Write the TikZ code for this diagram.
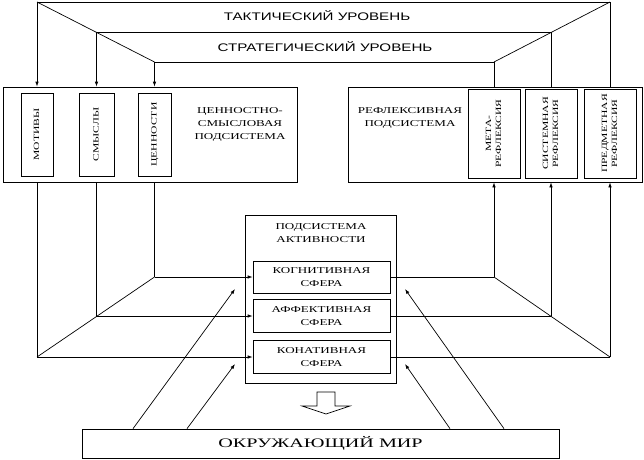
\documentclass[tikz,border=0pt]{standalone}
\usepackage{fontspec}
\usepackage{graphicx}
\setmainfont{Liberation Serif}
\newfontfamily\topfont[FakeStretch=1.38]{Liberation Sans}
\newfontfamily\boxfont[FakeStretch=1.45]{Liberation Serif}
\newfontfamily\plainserif{Liberation Serif}
\newfontfamily\worldfont[FakeStretch=1.55]{Liberation Serif}
\newcommand\vtext[1]{\scalebox{1.45}[1]{\begin{tabular}{@{}c@{}}#1\end{tabular}}}
\usetikzlibrary{arrows.meta,calc}
\begin{document}
\begin{tikzpicture}[x=1pt,y=-1pt,line width=0.7pt,
  box/.style={draw,rectangle,inner sep=0pt},
  txt/.style={inner sep=0pt,align=center,font=\boxfont\fontsize{9}{13}\selectfont},
  vlab/.style={inner sep=0pt,rotate=90,font=\plainserif\fontsize{8}{10}\selectfont},
  toplab/.style={inner sep=0pt,font=\topfont\fontsize{11}{13}\selectfont},
  arr/.style={-{Latex[length=5pt,width=3.5pt]}}]
\useasboundingbox (0,0) rectangle (644,459);
\fill[white] (0,0) rectangle (644,459);

% level labels
\node[toplab] (tak) at (317,16) {ТАКТИЧЕСКИЙ УРОВЕНЬ};
\node[toplab] (str) at (325,47) {СТРАТЕГИЧЕСКИЙ УРОВЕНЬ};

% value-sense subsystem
\node[box,minimum width=294pt,minimum height=95pt] (valsys) at (150,134.5) {};
\node[box,minimum width=32pt,minimum height=83pt] (motiv) at (37,134.5) {};
\node[box,minimum width=35pt,minimum height=83pt] (smysl) at (96.5,134.5) {};
\node[box,minimum width=33pt,minimum height=83pt] (cenn) at (154.5,134.5) {};
\node[vlab] (motivt) at (motiv.center) {\vtext{МОТИВЫ}};
\node[vlab] (smyslt) at (smysl.center) {\vtext{СМЫСЛЫ}};
\node[vlab] (cennt) at (cenn.center) {\vtext{ЦЕННОСТИ}};
\node[txt] (valtxt) at (240,124) {ЦЕННОСТНО-\\СМЫСЛОВАЯ\\ПОДСИСТЕМА};

% reflexive subsystem
\node[box,minimum width=294pt,minimum height=95pt] (refsys) at (495,134.5) {};
\node[box,minimum width=52pt,minimum height=89pt] (meta) at (494,133.5) {};
\node[box,minimum width=52pt,minimum height=89pt] (sist) at (551,133.5) {};
\node[box,minimum width=52pt,minimum height=89pt] (pred) at (610,133.5) {};
\node[vlab] (metat) at (meta.center) {\vtext{МЕТА-\\РЕФЛЕКСИЯ}};
\node[vlab] (sistt) at (sist.center) {\vtext{СИСТЕМНАЯ\\РЕФЛЕКСИЯ}};
\node[vlab] (predt) at (pred.center) {\vtext{ПРЕДМЕТНАЯ\\РЕФЛЕКСИЯ}};
\node[txt] (reftxt) at (410,118) {РЕФЛЕКСИВНАЯ\\ПОДСИСТЕМА};

% activity subsystem
\node[box,minimum width=151pt,minimum height=168pt] (act) at (320.5,299) {};
\node[txt] (acttxt) at (321,233.5) {ПОДСИСТЕМА\\АКТИВНОСТИ};
\node[box,txt,minimum width=137pt,minimum height=32pt] (cog) at (321.5,277) {КОГНИТИВНАЯ\\СФЕРА};
\node[box,txt,minimum width=137pt,minimum height=33pt] (aff) at (321.5,316) {АФФЕКТИВНАЯ\\СФЕРА};
\node[box,txt,minimum width=137pt,minimum height=33pt] (con) at (321.5,357) {КОНАТИВНАЯ\\СФЕРА};

% world
\node[box,minimum width=477pt,minimum height=29pt,font=\worldfont\fontsize{13}{15}\selectfont] (world) at (320.5,443.5) {ОКРУЖАЮЩИЙ МИР};

% top frame
\coordinate (t1) at (motiv |- 0,2);
\coordinate (t2) at (smysl |- 0,32);
\coordinate (t3) at (cenn |- 0,62);
\coordinate (r1) at (pred |- 0,2);
\coordinate (r2) at (sist |- 0,32);
\coordinate (r3) at (meta |- 0,62);
\draw (t1) -- (r1);
\draw (t2) -- (r2);
\draw (t3) -- (r3);
\draw (t1) -- (t3);
\draw (r1) -- (r3);
\draw[arr] (t1) -- (t1 |- valsys.north);
\draw[arr] (t2) -- (t2 |- valsys.north);
\draw[arr] (t3) -- (t3 |- valsys.north);
\draw (r1) -- (r1 |- refsys.north);
\draw (r2) -- (r2 |- refsys.north);
\draw (r3) -- (r3 |- refsys.north);

% bottom frame
\coordinate (b1) at (motiv |- con.west);
\coordinate (b2) at (smysl |- aff.west);
\coordinate (b3) at (cenn |- cog.west);
\coordinate (q1) at (pred |- con.east);
\coordinate (q2) at (sist |- aff.east);
\coordinate (q3) at (meta |- cog.east);
\draw (motiv |- valsys.south) -- (b1);
\draw (smysl |- valsys.south) -- (b2);
\draw (cenn |- valsys.south) -- (b3);
\draw (b1) -- (b3);
\draw[arr] (b1) -- (con.west);
\draw[arr] (b2) -- (aff.west);
\draw[arr] (b3) -- (cog.west);
\draw (con.east) -- (q1);
\draw (aff.east) -- (q2);
\draw (cog.east) -- (q3);
\draw (q1) -- (q3);
\draw[arr] (q1) -- (pred |- refsys.south);
\draw[arr] (q2) -- (sist |- refsys.south);
\draw[arr] (q3) -- (meta |- refsys.south);

% world influences
\coordinate (w1) at (world.north -| 133,0);
\coordinate (w2) at (world.north -| 187,0);
\coordinate (w3) at (world.north -| 450,0);
\coordinate (w4) at (world.north -| 504,0);
\coordinate (e1) at (235,289);
\coordinate (e2) at (235,364);
\coordinate (e3) at (405,289);
\coordinate (e4) at (405,364);
\draw[arr] (w1) -- (e1);
\draw[arr] (w2) -- (e2);
\draw[arr] (w3) -- (e4);
\draw[arr] (w4) -- (e3);

% hollow output arrow
\draw (317,392) -- (335,392) -- (335,406) -- (350,406) -- (326,414) -- (302,406) -- (317,406) -- cycle;
\end{tikzpicture}
\end{document}
